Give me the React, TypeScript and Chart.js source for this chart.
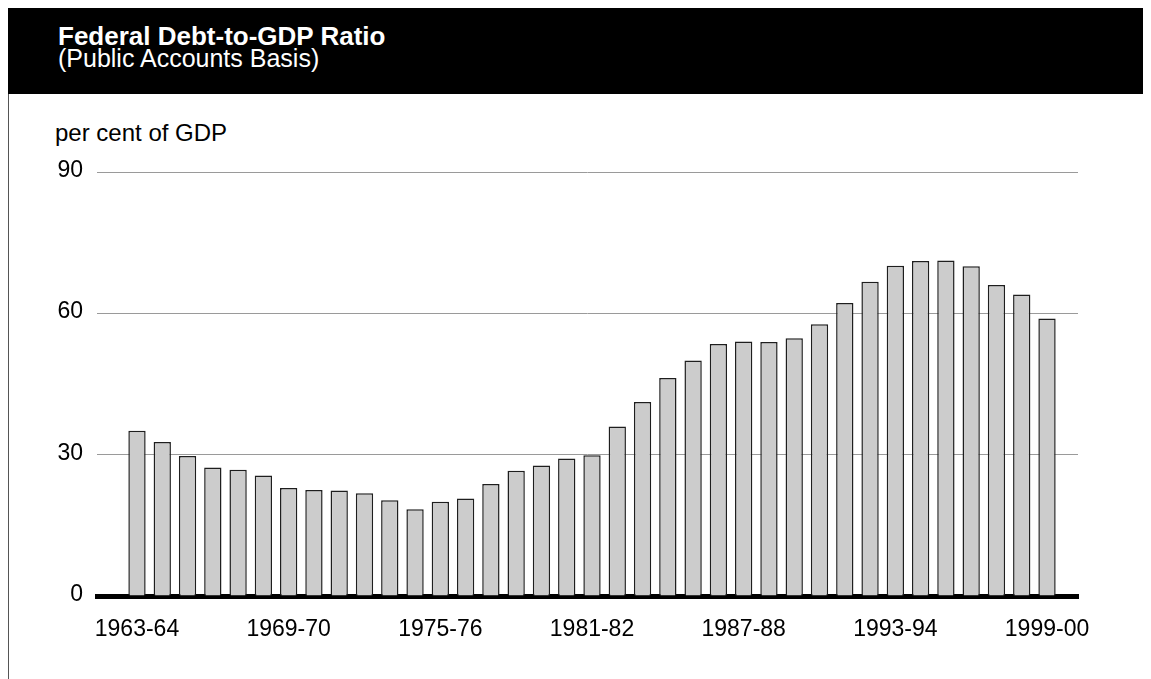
import React, { useEffect, useRef } from "react";
import { Chart, registerables } from "chart.js";

Chart.register(...registerables);

const categories = [
  "1963-64", "1964-65", "1965-66", "1966-67", "1967-68", "1968-69",
  "1969-70", "1970-71", "1971-72", "1972-73", "1973-74", "1974-75",
  "1975-76", "1976-77", "1977-78", "1978-79", "1979-80", "1980-81",
  "1981-82", "1982-83", "1983-84", "1984-85", "1985-86", "1986-87",
  "1987-88", "1988-89", "1989-90", "1990-91", "1991-92", "1992-93",
  "1993-94", "1994-95", "1995-96", "1996-97", "1997-98", "1998-99",
  "1999-00",
];

const debtToGdp = [
  35.1, 32.7, 29.7, 27.3, 26.8, 25.6, 22.9, 22.5, 22.4, 21.8,
  20.3, 18.4, 20.0, 20.7, 23.8, 26.6, 27.7, 29.2, 29.9, 36.0,
  41.2, 46.3, 50.0, 53.5, 54.0, 53.9, 54.7, 57.7, 62.2, 66.7,
  70.1, 71.1, 71.2, 70.0, 66.0, 64.0, 58.9,
];

const xTickLabels = ["1963-64", "1969-70", "1975-76", "1981-82", "1987-88", "1993-94", "1999-00"];
const yTicks = [0, 30, 60, 90];

const FONT = "'Liberation Sans', Arial, Helvetica, sans-serif";

export default function App() {
  const canvasRef = useRef<HTMLCanvasElement | null>(null);

  useEffect(() => {
    document.body.style.overflow = "hidden";
    const canvas = canvasRef.current;
    if (!canvas) return;
    const chart = new Chart(canvas, {
      type: "bar",
      data: {
        datasets: [
          {
            label: "Federal debt-to-GDP ratio",
            data: debtToGdp.map((v, i) => ({ x: i, y: v })),
            backgroundColor: "#cccccc",
            borderColor: "#1e1e1e",
            borderWidth: 1.5,
            categoryPercentage: 1,
            barPercentage: 0.685,
          },
        ],
      },
      options: {
        animation: false,
        responsive: false,
        maintainAspectRatio: false,
        devicePixelRatio: 1,
        layout: { padding: { left: 0, right: 73, top: 78, bottom: 0 } },
        plugins: {
          legend: { display: false },
          tooltip: { enabled: false },
          title: { display: false },
        },
        scales: {
          x: {
            type: "linear",
            min: -1.582,
            max: 37.226,
            offset: false,
            z: 1,
            grid: { display: false, drawTicks: false },
            border: { display: true, color: "#000000", width: 5 },
            afterBuildTicks: (scale: any) => {
              scale.ticks = xTickLabels.map((l) => ({ value: categories.indexOf(l) }));
            },
            afterFit: (scale: any) => {
              scale.height = 83;
            },
            ticks: {
              autoSkip: false,
              maxRotation: 0,
              minRotation: 0,
              padding: 20,
              color: "#000000",
              font: { family: FONT, size: 23 },
              callback: (value: any) => categories[Number(value)] ?? "",
            },
          },
          y: {
            min: 0,
            max: 90,
            grid: { color: "#9a9a9a", lineWidth: 1, drawTicks: false },
            border: { display: false },
            afterBuildTicks: (scale: any) => {
              scale.ticks = yTicks.map((v) => ({ value: v }));
            },
            afterFit: (scale: any) => {
              scale.width = 88;
            },
            ticks: {
              padding: 14,
              labelOffset: -1.5,
              color: "#000000",
              font: { family: FONT, size: 23 },
            },
          },
        },
      },
    });
    return () => chart.destroy();
  }, []);

  return (
    <div
      style={{
        position: "relative",
        width: 1143,
        height: 672,
        marginTop: -1,
        fontFamily: FONT,
        background: "#ffffff",
      }}
    >
      <div
        style={{
          position: "absolute",
          left: 0,
          top: 0,
          width: 1143,
          height: 87,
          background: "#000000",
        }}
      />
      <div
        style={{
          position: "absolute",
          left: 0,
          top: 87,
          width: 1,
          height: 585,
          background: "#555555",
        }}
      />
      <div
        style={{
          position: "absolute",
          left: 50,
          top: 14,
          color: "#ffffff",
          fontWeight: 700,
          fontSize: 26,
          lineHeight: "30px",
          whiteSpace: "nowrap",
        }}
      >
        Federal Debt-to-GDP Ratio
      </div>
      <div
        style={{
          position: "absolute",
          left: 50,
          top: 37,
          color: "#ffffff",
          fontSize: 25,
          lineHeight: "28px",
          whiteSpace: "nowrap",
        }}
      >
        (Public Accounts Basis)
      </div>
      <div
        style={{
          position: "absolute",
          left: 47,
          top: 112,
          color: "#000000",
          fontSize: 24,
          lineHeight: "28px",
          whiteSpace: "nowrap",
        }}
      >
        per cent of GDP
      </div>
      <canvas
        ref={canvasRef}
        width={1142}
        height={585}
        style={{ position: "absolute", left: 1, top: 87, width: 1142, height: 585 }}
      />
    </div>
  );
}
